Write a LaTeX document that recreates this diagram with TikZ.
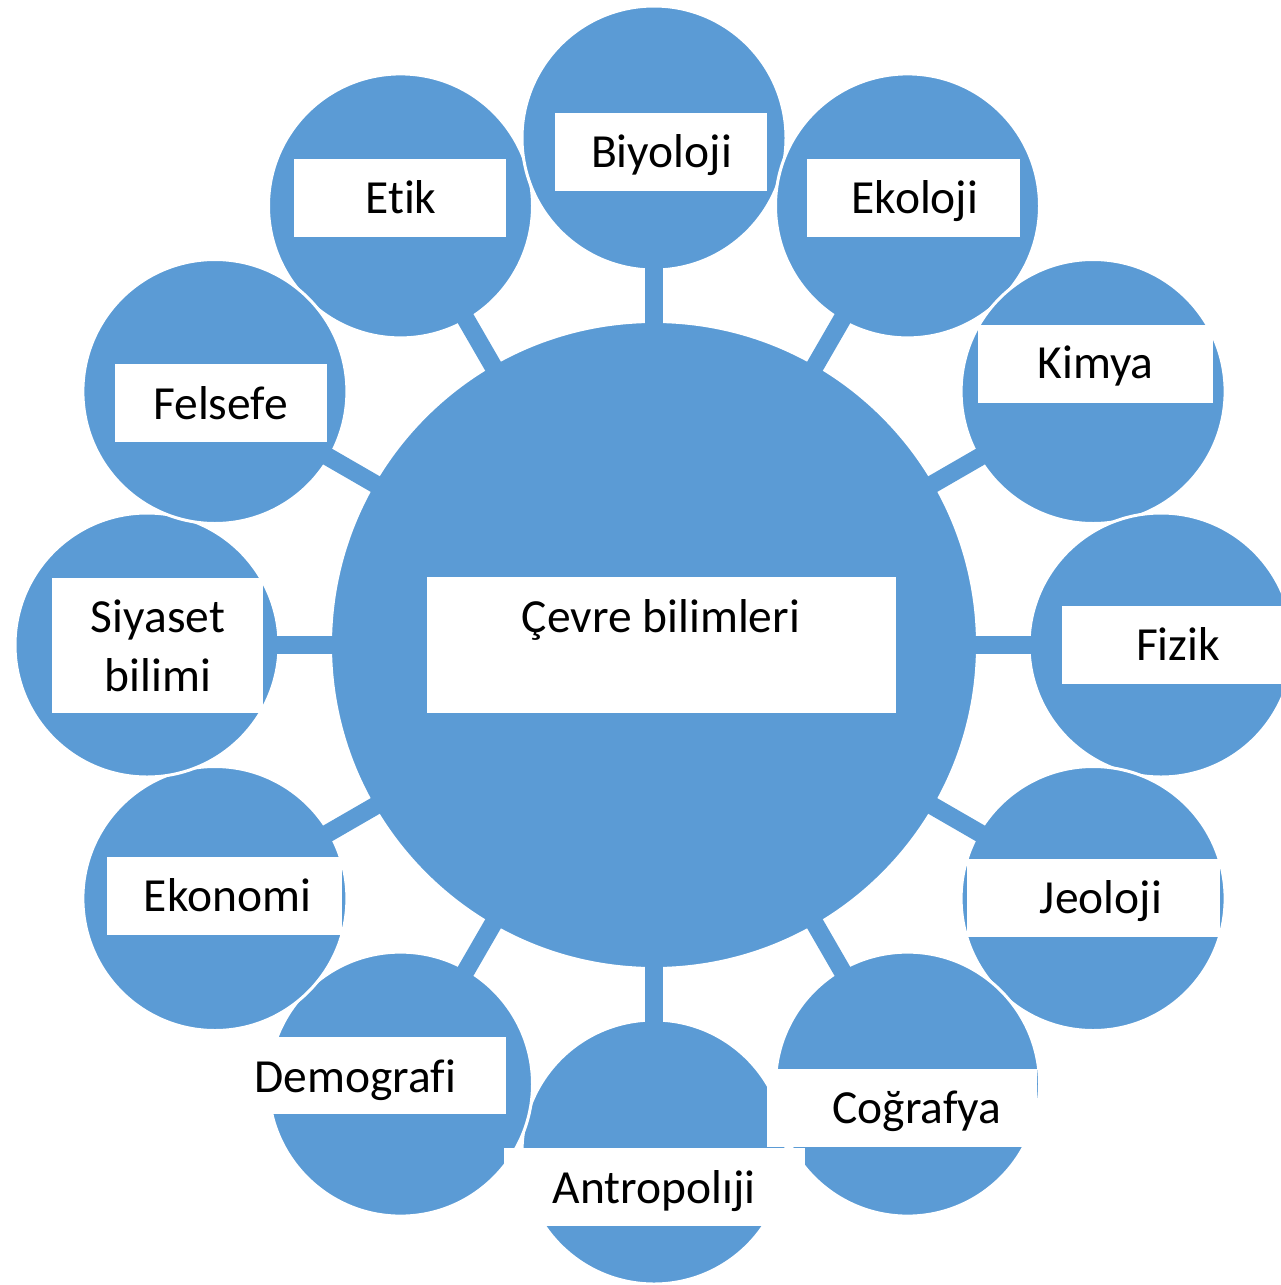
\documentclass[tikz,border=0pt]{standalone}
\usepackage{fontspec}
\setmainfont{Carlito}[Ligatures=NoCommon]
\definecolor{disc}{HTML}{5B9BD5}
\tikzset{
  hub/.style={circle, fill=disc, draw=white, line width=3pt, minimum size=647pt, inner sep=0pt, outer sep=0pt},
  field/.style={circle, fill=disc, draw=white, line width=3pt, minimum size=264pt, inner sep=0pt, outer sep=0pt},
  link/.style={disc, line width=18pt, shorten <=-2.5pt, shorten >=-2.5pt},
  tag/.style={fill=white, inner sep=0pt},
  word/.style={anchor=base, inner sep=0pt, font=\fontsize{47.5}{59}\selectfont, align=center}
}
\begin{document}
\begin{tikzpicture}[x=1pt, y=-1pt]
\useasboundingbox (0,0) rectangle (1281,1285);

% central discipline
\node[hub] (hub) at (654,645) {};

% surrounding disciplines
\node[field] (etik)  at (400.5,205.9) {};
\node[field] (biyo)  at (654,138) {};
\node[field] (eko)   at (907.5,205.9) {};
\node[field] (kim)   at (1093.1,391.5) {};
\node[field] (fiz)   at (1161,645) {};
\node[field] (jeo)   at (1093.1,898.5) {};
\node[field] (cog)   at (907.5,1084.1) {};
\node[field] (ant)   at (654,1152) {};
\node[field] (dem)   at (400.5,1084.1) {};
\node[field] (ekon)  at (214.9,898.5) {};
\node[field] (siy)   at (147,645) {};
\node[field] (fel)   at (214.9,391.5) {};

% spokes joining the hub to each disc
\foreach \f in {etik,biyo,eko,kim,fiz,jeo,cog,ant,dem,ekon,siy,fel}
  \draw[link] (hub) -- (\f);

% white label panels
\node[tag, minimum width=469pt, minimum height=136pt] (thub) at (661.5,645) {};
\node[tag, minimum width=212pt, minimum height=78pt] (tetik) at (400,198) {};
\node[tag, minimum width=212pt, minimum height=78pt] (tbiyo) at (661,152) {};
\node[tag, minimum width=213pt, minimum height=78pt] (teko) at (913.5,198) {};
\node[tag, minimum width=235pt, minimum height=78pt] (tkim) at (1095.5,364) {};
\node[tag, minimum width=228pt, minimum height=78pt] (tfiz) at (1176,645) {};
\node[tag, minimum width=253pt, minimum height=78pt] (tjeo) at (1093.5,898) {};
\node[tag, minimum width=270pt, minimum height=78pt] (tcog) at (902,1108) {};
\node[tag, minimum width=301pt, minimum height=78pt] (tant) at (654.5,1187) {};
\node[tag, minimum width=256pt, minimum height=77pt] (tdem) at (378,1075.5) {};
\node[tag, minimum width=235pt, minimum height=78pt] (tekon) at (224.5,896) {};
\node[tag, minimum width=211pt, minimum height=135pt] (tsiy) at (157.5,645.5) {};
\node[tag, minimum width=212pt, minimum height=78pt] (tfel) at (221,403) {};

% label texts
\node[word] at (661,632) {Çevre bilimleri};
\node[word] at (401,213) {Etik};
\node[word] at (661.5,167) {Biyoloji};
\node[word] at (915,213) {Ekoloji};
\node[word] at (1095.5,378) {Kimya};
\node[word] at (1178,660) {Fizik};
\node[word] at (1101,913) {Jeoloji};
\node[word] at (917,1123) {Coğrafya};
\node[word] at (654,1203) {Antropolıji};
\node[word] at (355.5,1092) {Demografi};
\node[word] at (227.5,911) {Ekonomi};
\node[word] at (158,691) {Siyaset\\bilimi};
\node[word] at (220.5,419) {Felsefe};
\end{tikzpicture}
\end{document}
